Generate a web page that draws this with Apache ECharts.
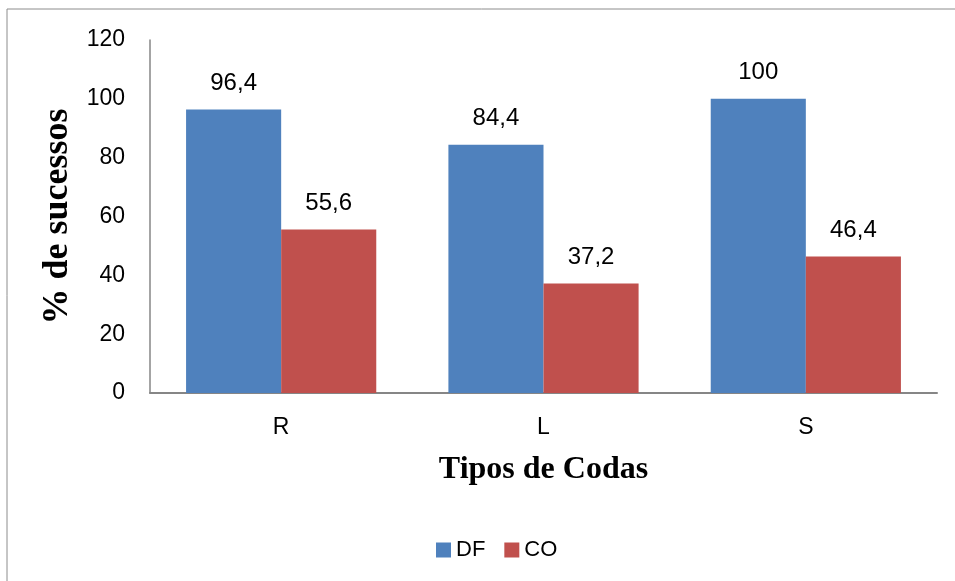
<!DOCTYPE html>
<html>
<head>
<meta charset="utf-8">
<script src="https://cdn.jsdelivr.net/npm/echarts@6/dist/echarts.min.js"></script>
<style>html,body{margin:0;padding:0;background:#fff}#c{width:955px;height:581px}</style>
</head>
<body>
<div id="c"></div>
<script>
const categories = ['R', 'L', 'S'];
const dfValues = [96.4, 84.4, 100];
const coValues = [55.6, 37.2, 46.4];
const seriesNames = ['DF', 'CO'];

const chart = echarts.init(document.getElementById('c'), null, {renderer: 'canvas'});
const labelFont = 'Liberation Sans, Arial, sans-serif';
const serif = 'Liberation Serif, Times New Roman, serif';
const fmt = p => String(p.value).replace('.', ',');
chart.setOption({
  animation: false,
  backgroundColor: '#fff',
  graphic: [{
    type: 'rect', shape: {x: 7, y: 9, width: 1000, height: 700},
    style: {fill: 'none', stroke: '#8c8c8c', lineWidth: 1}, silent: true
  }],
  grid: {left: 150, right: 18, top: 40, bottom: 188},
  legend: {
    data: seriesNames, top: 534, left: 431, itemWidth: 15, itemHeight: 15, itemGap: 19,
    icon: 'rect',
    textStyle: {fontSize: 22, fontFamily: labelFont, color: '#000'}
  },
  xAxis: {
    type: 'category', data: categories,
    name: 'Tipos de Codas', nameLocation: 'middle', nameGap: 61,
    nameTextStyle: {fontFamily: serif, fontWeight: 'bold', fontSize: 32, color: '#000'},
    axisLine: {lineStyle: {color: '#868686', width: 2}},
    axisTick: {show: false},
    axisLabel: {fontSize: 23, fontFamily: labelFont, color: '#000', margin: 23}
  },
  yAxis: {
    type: 'value', min: 0, max: 120, interval: 20,
    name: '% de sucessos', nameLocation: 'middle', nameGap: 70, nameRotate: 90,
    nameTextStyle: {fontFamily: serif, fontWeight: 'bold', fontSize: 36, color: '#000', padding: [0, 0, 0, 0]},
    axisLine: {show: true, lineStyle: {color: '#868686', width: 1.5}},
    axisTick: {show: false},
    splitLine: {show: false},
    axisLabel: {fontSize: 23, fontFamily: labelFont, color: '#000', margin: 25}
  },
  series: [
    {
      name: seriesNames[0], type: 'bar', data: dfValues, barGap: '0%', barCategoryGap: '27.5%',
      itemStyle: {color: '#4F81BD'},
      label: {show: true, position: 'top', distance: 14, formatter: fmt, fontSize: 24, fontFamily: labelFont, color: '#000'}
    },
    {
      name: seriesNames[1], type: 'bar', data: coValues,
      itemStyle: {color: '#C0504D'},
      label: {show: true, position: 'top', distance: 14, formatter: fmt, fontSize: 24, fontFamily: labelFont, color: '#000'}
    }
  ]
});
</script>
</body>
</html>
